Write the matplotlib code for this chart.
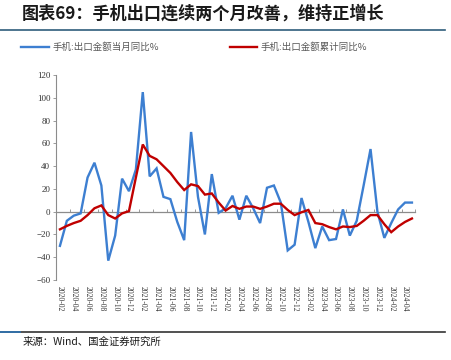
import matplotlib
matplotlib.use("Agg")
import matplotlib.pyplot as plt
import numpy as np
import pandas as pd
from matplotlib.lines import Line2D

plt.rcParams["font.family"] = ["Noto Sans CJK SC", "DejaVu Sans"]

# monthly categories 2020-02 .. 2024-05
months = [p.strftime("%Y-%m") for p in pd.period_range("2020-02", periods=52, freq="M")]

# 手机:出口金额当月同比%
monthly_yoy = [
    -30, -8, -3.5, -1.5, 30, 43, 23, -43, -21, 29, 18,
    37, 105, 31, 38, 13, 11, -9, -25, 70, 13, -20, 33,
    -1, 3, 14, -7, 14, 3, -10, 21, 23, 8, -34, -29,
    12, -9, -32, -13, -25, -24, 2, -21, -8, 23, 55, 0,
    -23, -10, 2, 8, 8,
]

# 手机:出口金额累计同比%
cum_yoy = [
    -15.5, -12.5, -10, -8, -3, 3, 5.5, -3, -6, -1.5, 0.5,
    30, 59, 49, 46, 40, 34, 26, 19, 24, 22.5, 15, 16,
    8, 1, 5, 2.5, 4.5, 4.5, 2.5, 4.5, 7, 7, 1.5, -3,
    -0.5, 1.5, -10, -11, -13.5, -15.5, -13, -13.5, -12.5, -8, -3, -3,
    -11, -18, -13, -9, -6,
]

series_names = ["手机:出口金额当月同比%", "手机:出口金额累计同比%"]
title = "图表69：手机出口连续两个月改善，维持正增长"
source = "来源：Wind、国金证券研究所"

BLUE = "#3d7fd1"
RED = "#c00000"
GRAY = "#8c8c8c"

fig = plt.figure(figsize=(4.52, 3.60), dpi=100)
ax = fig.add_axes([0.125, 0.2222, 0.794, 0.5694])

x = np.arange(len(months))
ax.plot(x, monthly_yoy, color=BLUE, lw=1.7, solid_joinstyle="miter", zorder=3)
ax.plot(x, cum_yoy, color=RED, lw=1.7, solid_joinstyle="miter", zorder=4)

ax.set_xlim(-0.5, len(months) - 0.5)
ax.set_ylim(-60, 120)
ax.set_yticks(range(-60, 121, 20))
ax.tick_params(axis="y", direction="out", length=2.5, width=0.6, color=GRAY,
               labelsize=6.5, pad=2, labelcolor="#333333")
for lab in ax.get_yticklabels():
    lab.set_fontfamily("Liberation Serif")

# month labels at the bottom, every second category
ax.set_xticks(x[::2])
ax.set_xticklabels(months[::2], rotation=-90, fontsize=5.5, color="#333333",
                   fontfamily="Liberation Serif")
ax.tick_params(axis="x", length=0, pad=4)

for s in ["top", "right", "bottom"]:
    ax.spines[s].set_visible(False)
ax.spines["left"].set_color(GRAY)
ax.spines["left"].set_linewidth(0.8)

# category axis crossing at zero, with tick marks between categories
zero_ax = ax.secondary_xaxis(0, transform=ax.transData)
zero_ax.set_xticks(x[1::2] + 0.5)
zero_ax.tick_params(direction="in", length=2.5, width=0.6, color=GRAY, labelbottom=False)
zero_ax.spines["bottom"].set_color(GRAY)
zero_ax.spines["bottom"].set_linewidth(0.9)

handles = [Line2D([], [], color=BLUE, lw=1.7), Line2D([], [], color=RED, lw=1.7)]
fig.legend(handles, series_names, loc="center", bbox_to_anchor=(0.43, 0.869),
           ncol=2, frameon=False, fontsize=6.8, handlelength=2.9, columnspacing=7.5,
           handletextpad=0.4, labelcolor="#595959")

fig.text(0.049, 0.961, title, fontsize=12.3, fontweight="bold", color="#1a1a1a",
         va="center", ha="left")
fig.add_artist(Line2D([0.0, 0.985], [0.917, 0.917], color="#2f5d7c", lw=1.2))
fig.add_artist(Line2D([0.0, 0.985], [0.079, 0.079], color="#333333", lw=1.2))
fig.add_artist(Line2D([0.0, 0.045], [0.079, 0.079], color="#2e75b6", lw=1.2))
fig.text(0.049, 0.052, source, fontsize=7.5, color="#1a1a1a", va="center", ha="left")

fig.savefig("out.png", dpi=100)
